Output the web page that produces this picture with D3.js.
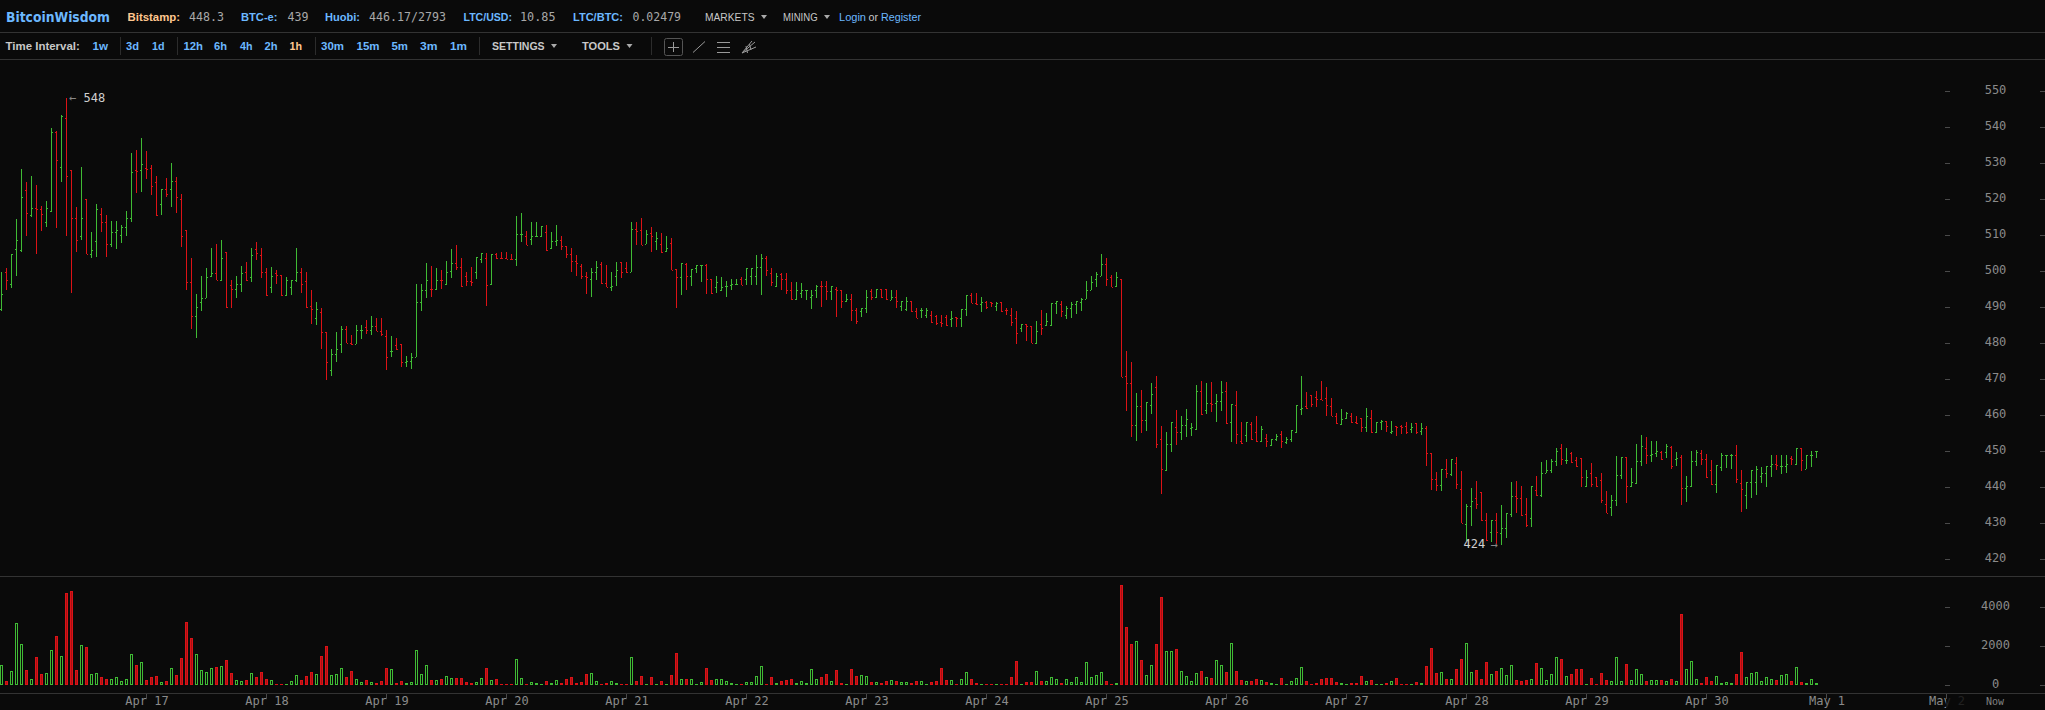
<!DOCTYPE html>
<html><head><meta charset="utf-8">
<script src="https://cdnjs.cloudflare.com/ajax/libs/d3/7.8.5/d3.min.js"></script>
<style>
html,body{margin:0;padding:0;background:#0a0a0a;overflow:hidden}
svg{display:block}
text{white-space:pre}
</style></head><body><div id="chart"></div>
<script>
const opens=[489.4,499.7,496.6,506.1,505.9,522.7,515.7,517.7,517.2,513.6,
516.8,538.6,529.1,542.7,528,514.7,509.7,520.2,504.7,508.3,
515.8,513.6,507.7,511,510.1,512.4,514.7,528,528,528.8,
528.6,524.7,518.6,523,523,525,520.2,511.5,496.9,487.5,
491.6,492.6,498.6,499.4,497.7,505.5,496.1,495.2,496.6,499.7,
498.5,506.1,504.4,499.7,495.5,499.6,499.1,493.4,495.5,497.7,
499.7,497.2,490.5,486.9,488.8,483,472.7,476.9,479.7,484.1,
480,479.7,483.6,484.4,483.8,484.7,483.3,481.9,478,479.4,
479.7,474.7,475,476.1,491.6,494.7,495.2,495.2,497.6,496.6,
500,502.2,501.1,498.6,497.2,499.9,503.3,503.8,496.5,504.7,
503.7,503.6,503.5,503.3,510.3,509.8,508.9,509.7,509.7,510.8,
506.6,508.5,508.8,507,504.7,502.8,501.4,498.6,498,499.9,
501.9,496.7,495.7,498.6,502.5,500.8,499.9,511.7,511.4,507.7,
510.6,508.3,507.5,505.7,507.8,500.6,498.5,501.9,498.6,500.8,
501.7,501.7,497.8,495.5,494.7,496,496.3,496.6,497.8,497.8,
498.6,498.6,501.1,503.6,499.5,495.8,499.2,497.8,494.7,492.3,
493.9,494.7,492.8,494.7,495.9,495.9,494.5,495,494.7,491.7,
492.2,489.2,489.1,489.7,494.5,492.9,495,495,492.1,492.8,
490.4,489.4,491.7,488.9,489.2,487.8,488,487.5,485.8,487.2,
486.7,487.2,486.9,489.5,493.3,491.1,490.8,491.4,491.4,490.3,
491.4,489.3,487.8,486.9,484.3,485.3,484.7,480.2,485.3,485,
485,491.1,490.8,487.8,489.7,490.8,491.4,492.2,494.7,498,
498.6,501.9,498.5,495.8,497.8,470.8,468.9,457.2,462.5,458.6,
462.8,467.9,453.3,444.9,451.9,456.7,455.3,457.2,456.4,456.2,
466.7,461.4,463.3,463.3,463.9,466.7,458,463,452.8,454.4,
457.5,455.3,452.8,453.6,451.7,453.3,454.7,452.5,453.3,455.5,
461.7,462.5,465.5,465,464.4,464.7,462.5,459.7,457.7,459.2,
459.9,458,459.2,456.7,459.2,455.4,458,458.3,455.3,456.9,
456.9,456.9,456.1,457.9,455.6,456.4,449.4,442.2,440.6,445,
443.6,446.7,439.4,
429.9,434.8,436.9,438.6,430.8,427.7,430.8,427.2,428.6,432.5,
437.5,436.9,432.5,431.6,439.2,438,444.1,444.7,447.2,450.8,
447.5,449.4,447.5,448.1,440.3,444.1,442.8,441.9,435.5,434.4,
436.6,443.3,448.4,440.4,441.1,447.2,450.8,448.9,449.4,449.7,
449.7,451.1,447.8,448.3,439.7,440.3,447.2,449.4,447.8,444.7,
440.8,445.7,448.9,448.9,448.9,441.1,438,441.4,441.4,443,
443.9,445.8,446.4,445.8,445.8,448.1,446.4,450.8,445.1,448.9,
450];
const highs=[499.8,500.8,504.8,514.4,528.4,524.7,526.6,524.1,518.1,519.4,
539.7,539.1,543.3,548,528,518,529.1,520.2,510.8,518.6,
517.5,515.5,514.1,514.1,512.8,516.7,533,533.6,536.9,533.3,
529.4,526.6,523,525.8,530.2,526.3,521.6,511.5,503.6,493.8,
498.6,500.8,506.6,507.5,508.6,505.5,497.6,498.6,501.6,502.7,
506.6,508,506.6,500.8,501.3,500.5,499.1,498.3,497.7,506.6,
500.8,499.7,494.8,491.6,489.7,483,478.3,483,484.7,484.7,
482.2,485.2,485.2,486.6,487.5,486.9,486.9,483.8,481.9,481.6,
479.7,476.6,477.2,496.6,496.6,502.2,501.6,500.8,500.5,503,
506.3,507.2,503.6,499.7,501.1,504.1,505.2,505.2,504.7,505.2,
505.3,505.3,504.7,515.3,516.1,511.1,513.6,513.6,512.5,512.8,
510.8,512.8,509.7,507,506.4,504.5,502.1,499.7,500.8,502.8,
502.5,501.7,499.7,502.5,502.5,502.5,513.6,513.6,514.7,511.4,
512.2,510.8,510.6,509.7,509.2,500.6,502.2,502.2,500.6,501.7,
501.7,502,497.8,498.6,498.3,497.2,497.8,498,498.3,500.8,
500.8,504.5,504.7,504.2,500.8,499.5,499.5,499.5,497,497.1,
496.7,494.7,494.7,496.1,497.2,497.2,495.8,495.7,494.7,493.6,
493.6,489.7,489.8,494.7,495,495,495,495,494.7,494.7,
491.7,493,491.7,489.9,489.9,489.7,489,487.8,487.8,487.8,
488.9,487.2,489.5,493.3,493.9,493.9,492.8,491.7,491.4,491.4,
491.4,489.7,489.7,488.9,485.3,485.3,484.7,486.1,489.2,488.3,
491.1,491.7,491.7,490.5,491.4,491.7,492.5,497.2,498.6,499.7,
504.7,503.6,498.9,499.7,497.8,477.8,474.7,466.1,466.9,463.6,
468.9,470.9,456.9,455.3,458,461.4,459.7,461.7,457.8,468.3,
469.4,468.9,469.2,465.8,469.4,469.2,463.1,466.7,458,458,
458,459.7,456.9,454.7,453.3,454.7,455.6,453.9,455.8,462.8,
470.9,466.4,465.5,466.7,469.4,467.8,464.7,460.5,461.7,460.8,
460.5,459.7,459.2,461.9,461.4,458,458.6,458.3,458.3,456.9,
457.2,458,457.9,457.9,457.9,456.9,449.4,444.2,445,447.8,
447.8,448.3,444.4,
435.5,439.7,441.7,438.6,432.8,430.8,433,435.1,432.8,441.5,
441.7,440.4,436.9,440.4,443.1,447,447.5,447.9,450.9,451.9,
450.9,449.7,448.3,448.1,444.7,446.7,442.8,443.9,439,437.8,
448.6,448.4,448.4,445.4,452,454.4,453.9,452.8,453,450,
451.9,451.4,449.7,448.9,443.1,450,450.3,450.3,449.2,447.6,
446.2,449.4,449,449.2,451.7,444.7,441.5,444.7,445.8,445.6,
445.8,448.9,448.9,448.9,448.9,448.7,450.8,450.8,448.9,450,
450];
const lows=[489,494.9,495.3,498.7,505.5,509.9,515.1,504.9,511.2,512.4,
516.6,512.1,524.9,509.9,494,505.4,508.8,504.7,503.8,504,
511,504,506.8,506.2,507.9,509.9,513.8,521.8,522.1,525.7,
521.2,515.4,515.7,520.7,517.9,516.3,506.8,494.9,484,481.5,
489,492.5,498.4,497.5,497.2,489.9,489.9,492.5,494.2,497.3,
497.1,503.1,498.1,493.2,493.9,496.4,493.2,493.2,493.4,497.1,
493.9,489.9,485.3,485.1,478.4,469.9,471,474.8,477.3,480,
479.5,479.7,481.1,482.7,482.2,483.3,482.1,472.7,476.1,478.1,
473.5,473.5,472.9,476.1,489,492.5,492.8,494.9,495,496.3,
498.1,500.3,495.7,496,496,497.8,502.2,490.3,496.3,503.4,
503.5,503.4,503.2,501.6,508,507.2,507.4,509.6,509.6,505.7,
506.3,506.9,506,503.8,499.9,498.8,498,493.8,493,497.7,
496.6,495.5,494.4,496,498.2,499.6,499.7,507.2,507.2,507.5,
505.5,505.9,505.2,505.3,500.3,489.9,493.5,494.9,496,499.6,
497.1,493.8,493.8,494.1,494.4,493,494.9,496.3,496.1,496.2,
496.2,496.3,493.5,498.8,496,495.6,494.9,493.8,492.1,492.1,
492.7,492.1,489.6,492.7,490.2,491.9,492.1,487.4,489.9,491.6,
486.3,485.3,487.4,488.5,492.1,492.7,492.5,492.1,491.9,489.9,
489.1,489.1,488.8,486.9,486.9,486.9,485.6,485.2,484.6,484.7,
484.6,484.6,484.6,487.7,491.1,490.7,488.8,489.4,490,489.1,
488.6,488,484.8,479.9,483,480.5,480,479.8,482.4,484.8,
484.9,488.2,487.4,486.8,487.1,488.2,489.1,492.2,494.7,495.7,
498.6,496,495.5,495.7,470.6,461.2,454,453,455.2,455.7,
460.4,451,438.2,444.6,449.9,451.8,453.2,454.1,454.3,456,
460.2,460.4,461,458,461.3,457.7,452.7,452.1,452.1,452.7,
453.2,452.7,452.7,451.3,451.6,453,451,452.1,452.7,455.2,
460.2,461.7,462.2,462.4,464.2,459.9,459.7,457.6,457.4,459,
457.9,457.6,455.4,455.3,455.2,455.2,455.8,455.3,454.9,454.3,
454.9,454.9,455.2,454.9,454.6,446,439.3,439.1,439.1,442.7,
443.1,439.6,430,
425.2,429.2,434,430.7,425.2,424.7,424.2,424,426,431.8,
433,432.1,429.1,429.1,437.6,437.4,444.1,444.1,446,446.2,
446.5,446.7,445.6,440.1,440.1,440.1,440.1,435.7,432.9,432,
434.8,442.2,435.6,440.1,440.9,445.9,446.5,447,448.3,447.6,
448.1,445.1,445.9,435.1,435.8,440.2,445.9,446.2,442.6,440.6,
438.4,444.5,445.4,445.1,441.2,433.1,434,437,437.9,441.2,
440.1,442.9,444.8,443.7,444,446.2,446.2,444.5,445,445.6,
448.1];
const closes=[493.8,497.7,504.7,508.6,520.5,516.2,517.7,517.2,516,517.5,
538.6,530.8,543.1,526.5,514.7,508.6,514.7,504.7,505.8,517.4,
513.6,507.7,511,511.6,512.4,514.7,527.7,527.9,529.7,528.5,
523.8,515.5,523,521.6,525,520.5,509.7,496.9,487.5,490,
492.5,498.3,499.4,497.7,503.6,490,495.2,496.6,499.4,497.5,
504.4,505.2,499.7,493.3,498.6,499.1,493.3,497.7,497.7,499.7,
496.6,490.1,489.4,489.4,483,474.7,476.9,478.3,484.1,480,
479.7,483.6,483.8,483.8,484.7,483.3,482.7,476.3,478,478.3,
474.7,475,476.1,491.6,494.7,497.5,495.1,497.5,497.5,499.7,
502.2,501.1,495.8,497.2,497,504.1,505.2,496.3,504.7,503.6,
503.6,503.5,503.3,510.3,510.3,507.2,509.7,509.7,512.5,506,
508.3,508.7,507,504.7,502.8,502.2,498.6,498.5,499.9,501.1,
496.7,495.6,495.8,500.3,499.7,499.7,511.7,511.1,507.2,510.3,
509.7,509.2,505.3,506.4,500.5,498.3,502.2,498.6,500.6,501.7,
501.7,497.8,493.9,497,495.7,496,496.6,496.6,496.3,500.8,
500.8,501.1,503.6,500.3,497,498.6,497.8,494.7,492.2,494.7,
494.7,494.7,493.3,496,495.8,494.5,495.8,494.7,491.7,492.3,
489.2,486.3,489.7,492.8,492.8,495,492.9,492.4,492.8,491.7,
491.7,491.7,488.9,486.9,489.2,489.2,485.8,485.6,485.6,485,
486.9,486.9,489.5,493.3,491.1,490.8,491.6,490,491.1,491.1,
489.1,489.2,485.8,482.8,485.3,484.7,480.2,483.3,484.3,486.1,
491.1,491.7,488.9,489.7,490.8,491.7,492.2,494.7,496.9,499.2,
501.9,497.8,495.6,498.3,470.6,468.9,457.2,462.5,458.6,463.6,
465.9,451.9,445,451.9,458,455.3,457.2,458.9,456.7,466.7,
460.3,463.3,463.2,463.9,466.4,457.8,463.1,454.7,452.2,458,
453.3,452.8,456.1,452.8,453.3,454.2,452.8,453.3,455.8,462.8,
461.9,461.9,463.1,464.4,464.3,463,459.7,457.8,458.9,460.5,
458,457.8,456.7,459.7,455.3,458,458.3,456.9,455.6,456.8,
456.8,455.3,456.7,455.3,456.4,449.4,442.2,440.6,445,443.9,
447.8,440.8,430,
434.8,436.1,435.5,430.8,425.4,430.8,427.5,428.6,432.8,437.5,
436.9,432.2,429.4,440.4,437.8,444.1,444.7,447.2,450,447.8,
447.5,446.9,445.8,442.8,442.8,440.8,440.5,436.4,433,436.6,
443.3,448.4,440.5,441.6,447.2,451.4,448.9,449.2,450,447.8,
451.5,445.8,448,439.7,440.3,447.2,449.7,447.8,442.8,440.8,
446.1,448.9,448.9,448.9,442.2,439.4,441.4,444.7,445,443.9,
445.8,446.4,446.1,445.8,446.4,447.8,450.8,447.5,448.9,448.9,
450];
const volumes=[1026,205,718,3180,2103,770,308,1436,564,616,
1796,2514,1488,4720,4822,770,2052,1949,564,616,
410,308,308,410,205,308,1590,1026,1180,257,
410,462,154,205,872,513,1385,3232,2411,1590,
770,667,872,923,975,1283,616,257,205,257,
616,410,667,308,257,51,51,51,205,513,
257,462,667,564,1488,2001,513,564,872,410,
718,308,154,257,154,103,205,872,821,103,
205,103,154,1796,564,1026,257,257,308,462,
359,359,359,154,103,154,359,872,257,308,
34,34,17,1334,359,34,154,103,34,205,
103,257,103,308,410,103,154,564,616,205,
34,103,205,103,34,34,1436,205,462,34,
410,34,205,34,513,1642,308,308,308,34,
154,872,257,308,308,205,103,17,34,154,
154,462,975,34,410,103,205,257,308,103,
205,103,821,308,410,564,205,770,103,34,
821,462,513,462,154,154,103,205,257,205,
154,154,103,205,205,34,154,205,872,257,
257,34,308,667,308,103,17,34,17,34,
17,34,410,1231,34,154,154,718,205,205,
410,308,103,308,154,410,154,1180,410,513,
667,205,34,103,5130,2975,2103,2257,1283,513,
1026,2103,4514,1744,1744,1847,718,462,205,616,
718,410,359,1283,1026,667,2155,718,257,205,
205,308,257,154,103,34,359,34,205,359,
923,205,34,103,308,359,359,154,103,34,
103,103,462,205,257,34,17,103,205,359,
34,34,34,154,103,975,1898,616,667,308,
308,821,1334,2155,667,770,308,1180,564,718,
872,513,1026,257,205,291,308,1129,872,257,
564,1470,1368,462,564,821,855,86,359,51,
616,257,205,1436,205,1077,257,821,564,205,
257,257,257,205,308,205,3642,821,1231,308,
103,410,205,462,103,154,103,564,1693,410,
616,667,205,410,308,257,513,564,205,923,
154,103,308,103];

const dayLabels=["Apr 17","Apr 18","Apr 19","Apr 20","Apr 21","Apr 22","Apr 23","Apr 24","Apr 25","Apr 26","Apr 27","Apr 28","Apr 29","Apr 30","May 1","May 2"];
const priceTicks=[420,430,440,450,460,470,480,490,500,510,520,530,540,550];
const volumeTicks=[0,2000,4000];
const firstMidnightBar=29, barsPerDay=24;

const W=2045,H=710,BG="#0a0a0a";
const GREEN="#3fbb34",RED="#dc1216",RED_FILL="#a81014",GRID="#333",DASH="#4a4a4a",AXIS_TXT="#8a8a8a";
const BLUE="#6cb8ff",PEACH="#ffc78f",VAL="#a8a8a8",LIGHT="#c8c8c8";

const x=d3.scaleLinear().domain([0,1]).range([1.5,6.5]);
const y=d3.scaleLinear().domain([420,550]).range([559.3,91.3]);
const vy=d3.scaleLinear().domain([0,4000]).range([685.3,607.3]);

const bars=d3.range(opens.length).map(i=>({i,o:opens[i],h:highs[i],l:lows[i],c:closes[i],v:volumes[i]}));
const px=v=>Math.round(v);
const col=d=>d.c>=d.o?GREEN:RED;

const svg=d3.select("#chart").append("svg").attr("width",W).attr("height",H).style("background",BG);

/* ---------- price bars ---------- */
const gP=svg.append("g").attr("shape-rendering","crispEdges");
const cols=Math.floor;
gP.selectAll("rect.hl").data(bars).join("rect").attr("class","hl")
  .attr("x",d=>cols(x(d.i))).attr("width",1)
  .attr("y",d=>px(y(d.h))).attr("height",d=>Math.max(1,px(y(d.l))-px(y(d.h))))
  .attr("fill",col);
gP.selectAll("rect.op").data(bars).join("rect").attr("class","op")
  .attr("x",d=>cols(x(d.i))-1).attr("width",1).attr("y",d=>px(y(d.o))).attr("height",1).attr("fill",col);
gP.selectAll("rect.cl").data(bars).join("rect").attr("class","cl")
  .attr("x",d=>cols(x(d.i))+1).attr("width",1).attr("y",d=>px(y(d.c))).attr("height",1).attr("fill",col);

/* ---------- volume bars ---------- */
const gV=svg.append("g").attr("shape-rendering","crispEdges");
const base=px(vy(0));
const tall=bars.filter(d=>base-px(vy(d.v))>=2), flat=bars.filter(d=>base-px(vy(d.v))<2);
gV.selectAll("rect.vb").data(tall).join("rect").attr("class","vb")
  .attr("x",d=>cols(x(d.i))-1+.5).attr("width",2)
  .attr("y",d=>px(vy(d.v))+.5).attr("height",d=>base-px(vy(d.v))-1)
  .attr("fill",d=>d.c>=d.o?BG:RED_FILL).attr("stroke",col).attr("stroke-width",1);
gV.selectAll("rect.vf").data(flat).join("rect").attr("class","vf")
  .attr("x",d=>cols(x(d.i))-1).attr("width",3).attr("y",base-1).attr("height",1).attr("fill",col);

/* ---------- axes ---------- */
const mono="'DejaVu Sans Mono',monospace";
const gA=svg.append("g");
const dayX=i=>x(firstMidnightBar+i*barsPerDay);
gA.selectAll("text.day").data(dayLabels).join("text").attr("class","day")
  .attr("x",(d,i)=>dayX(i)+.5).attr("y",705).attr("text-anchor","middle")
  .attr("font-family",mono).attr("font-size",12).attr("fill",AXIS_TXT).text(d=>d);
gA.append("rect").attr("x",1946).attr("y",692).attr("width",W-1946).attr("height",18).attr("fill",BG).attr("opacity",.82);
gA.selectAll("rect.dt").data(dayLabels).join("rect").attr("class","dt").attr("shape-rendering","crispEdges")
  .attr("x",(d,i)=>cols(dayX(i))).attr("y",694).attr("width",1).attr("height",5).attr("fill",DASH);

[[priceTicks,y],[volumeTicks,vy]].forEach(([t,sc])=>{
  gA.selectAll(null).data(t).join("text").attr("x",1995.5).attr("y",d=>px(sc(d))+3).attr("text-anchor","middle")
    .attr("font-family",mono).attr("font-size",12).attr("fill",AXIS_TXT).text(d=>d);
  [1945,2040].forEach(x0=>gA.selectAll(null).data(t).join("rect").attr("shape-rendering","crispEdges")
    .attr("x",x0).attr("width",5).attr("y",d=>px(sc(d))).attr("height",1).attr("fill",DASH));
});
gA.append("text").attr("x",1995).attr("y",705).attr("text-anchor","middle").attr("font-family",mono)
  .attr("font-size",10).attr("fill","#808080").text("Now");

const line=(x1,y1,x2,y2,c)=>svg.append("rect").attr("shape-rendering","crispEdges")
  .attr("x",x1).attr("y",y1).attr("width",x2-x1||1).attr("height",y2-y1||1).attr("fill",c);
[32,59,576,693].forEach(v=>line(0,v,W,v,GRID));

/* ---------- extreme labels ---------- */
const hiBar=d3.greatest(bars,d=>d.h), loBar=d3.least(bars,d=>d.l);
svg.append("text").attr("x",x(hiBar.i)+2.5).attr("y",px(y(hiBar.h))+4).attr("font-family",mono).attr("font-size",12).attr("fill","#888").text("←");
svg.append("text").attr("x",x(hiBar.i)+17).attr("y",px(y(hiBar.h))+4).attr("font-family",mono).attr("font-size",12).attr("fill","#cfcfcf").text(d3.format("d")(hiBar.h));
svg.append("text").attr("x",x(loBar.i)-38).attr("y",px(y(loBar.l))+3).attr("font-family",mono).attr("font-size",12).attr("fill","#cfcfcf").text(d3.format("d")(loBar.l));
svg.append("text").attr("x",x(loBar.i)-11).attr("y",px(y(loBar.l))+4).attr("font-family",mono).attr("font-size",12).attr("fill","#888").text("→");

/* ---------- header ---------- */
const sans="'Liberation Sans',Arial,sans-serif";
const T=(x0,yy,s,c,o={})=>{const t=svg.append("text").attr("x",x0).attr("y",yy).attr("fill",c)
  .attr("font-family",o.f||sans).attr("font-size",o.s||11).attr("font-weight",o.b?"bold":"normal").text(s);
  if(o.w)t.attr("textLength",o.w).attr("lengthAdjust","spacingAndGlyphs");return t;};
const r1=21,r2=50;
T(6,r1+1,"BitcoinWisdom",BLUE,{b:1,s:14,f:"'DejaVu Sans',sans-serif",w:104});
[[127.5,"Bitstamp:",PEACH,52.5],[241,"BTC-e:",BLUE,36.5],[325,"Huobi:",BLUE,35],[463.5,"LTC/USD:",BLUE,48.5],[573,"LTC/BTC:",BLUE,50]]
  .forEach(([a,s,c,w])=>T(a,r1,s,c,{b:1,w}));
[[189,"448.3",35],[287.5,"439",21],[369,"446.17/2793",77],[520,"10.85",35.5],[632.5,"0.02479",48.5]]
  .forEach(([a,s,w])=>T(a,r1,s,VAL,{f:mono,s:12,w}));
T(705,r1,"MARKETS",LIGHT,{w:49.5});T(783,r1,"MINING",LIGHT,{w:34.6});
const caret=(cx,cy,c)=>svg.append("path").attr("d",`M${cx-3},${cy-2}h6l-3,4z`).attr("fill",c);
caret(764,17,"#aaa");caret(827,17,"#aaa");
T(839,r1,"Login",BLUE,{w:27});T(868.6,r1,"or",LIGHT,{w:9.5});T(881,r1,"Register",BLUE,{w:40});

T(5.5,r2,"Time Interval:",LIGHT,{b:1,w:74.3});
[[92.5,"1w",15.5],[126,"3d",13],[152,"1d",12.5],[183.5,"12h",19.5],[214,"6h",13],[240,"4h",12.5],[264.5,"2h",13],[321,"30m",23],[356.5,"15m",23],[391.5,"5m",16.5],[420,"3m",17.5],[450,"1m",17]]
  .forEach(([a,s,w])=>T(a,r2,s,BLUE,{b:1,w}));
T(289.5,r2,"1h",PEACH,{b:1,w:12.5});
T(492,r2,"SETTINGS",LIGHT,{b:1,w:52.6});T(582,r2,"TOOLS",LIGHT,{b:1,w:38});
caret(554,46,"#aaa");caret(629.5,46,"#aaa");
[120,177,315,479,651].forEach(v=>line(v,37,v,55,"#2c2c2c"));

/* tool icons */
svg.append("rect").attr("x",664.5).attr("y",38.5).attr("width",18).attr("height",17).attr("rx",2).attr("fill","none").attr("stroke","#555");
const ic=d=>svg.append("path").attr("d",d).attr("fill","none").attr("stroke","#999").attr("stroke-width",1);
ic("M673.5,42V52M668,47.5H679");
ic("M693,52.5L705,41.5");
ic("M717,42.5H730M717,47.5H730M717,52.5H730");
ic("M742,53L755,42M742,53L752,41M742,53L756,47M746,46L747.5,53M749.5,44L751,50");
</script></body></html>
